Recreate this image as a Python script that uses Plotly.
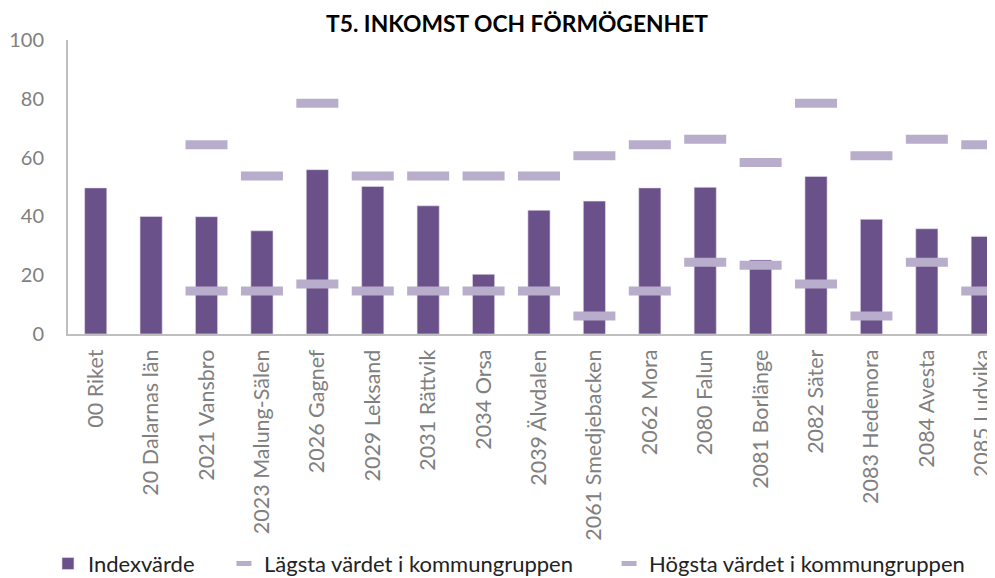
import plotly.graph_objects as go

categories = ["00 Riket", "20 Dalarnas län", "2021 Vansbro", "2023 Malung-Sälen", "2026 Gagnef",
              "2029 Leksand", "2031 Rättvik", "2034 Orsa", "2039 Älvdalen", "2061 Smedjebacken",
              "2062 Mora", "2080 Falun", "2081 Borlänge", "2082 Säter", "2083 Hedemora",
              "2084 Avesta", "2085 Ludvika"]
index_values = [49.7, 40.0, 39.9, 35.1, 55.9, 50.2, 43.6, 20.3, 42.1, 45.2, 49.7, 49.9, 25.2, 53.6, 39.0, 35.8, 33.2]
lowest = [None, None, 14.6, 14.6, 17.0, 14.6, 14.6, 14.6, 14.6, 6.1, 14.6, 24.4, 23.4, 17.0, 6.1, 24.4, 14.6]
highest = [None, None, 64.4, 53.7, 78.5, 53.7, 53.7, 53.7, 53.7, 60.6, 64.4, 66.2, 58.3, 78.5, 60.6, 66.2, 64.4]
y_ticks = [0, 20, 40, 60, 80, 100]
series_names = ["Indexvärde", "Lägsta värdet i kommungruppen", "Högsta värdet i kommungruppen"]

FONT = "Lato, Carlito, sans-serif"
BAR = "#6a5189"
DASH = "#b8adca"
GRAY = "#808080"

dash_marker = dict(symbol="line-ew-open", size=30, color=DASH, line=dict(color=DASH, width=9))
legend_dash = dict(symbol="line-ew-open", size=10.7, color=DASH, line=dict(color=DASH, width=5))

fig = go.Figure()
fig.add_trace(go.Bar(x=categories, y=index_values, name=series_names[0], marker_color=BAR,
                     marker_line=dict(color="#e6e0ee", width=0.6), width=0.4, legend="legend"))
fig.add_trace(go.Scatter(x=categories, y=lowest, name=series_names[1], mode="markers",
                         marker=dash_marker, showlegend=False))
fig.add_trace(go.Scatter(x=categories, y=highest, name=series_names[2], mode="markers",
                         marker=dash_marker, showlegend=False))
# legend-only entries with a small dash symbol
fig.add_trace(go.Scatter(x=[None], y=[None], name=series_names[1], mode="markers",
                         marker=legend_dash, legend="legend2"))
fig.add_trace(go.Scatter(x=[None], y=[None], name=series_names[2], mode="markers",
                         marker=legend_dash, legend="legend3"))

leg_common = dict(orientation="h", xref="container", yref="container", y=0.025, yanchor="middle",
                  font=dict(family=FONT, size=22, color="#222222"), bgcolor="rgba(0,0,0,0)",
                  itemwidth=30)

fig.update_layout(
    width=987, height=570,
    paper_bgcolor="white", plot_bgcolor="white",
    margin=dict(l=60, r=0, t=32, b=244, autoexpand=False),
    title=dict(text="<b>T5. INKOMST OCH FÖRMÖGENHET</b>", x=0.5157, xanchor="center", xref="container",
               y=0.972, yanchor="middle", yref="container",
               font=dict(family=FONT, size=22.8, color="black")),
    font=dict(family=FONT),
    showlegend=True,
    legend=dict(x=0.0405, xanchor="left", **leg_common),
    legend2=dict(x=0.2188, xanchor="left", **leg_common),
    legend3=dict(x=0.609, xanchor="left", **leg_common),
    xaxis=dict(type="category", range=[-0.5, 16.23], tickangle=-90, automargin=False,
               tickfont=dict(family=FONT, size=21.5, color=GRAY), ticklabelstandoff=5,
               showline=True, linecolor="#bfbfbf", linewidth=2, ticks="", showgrid=False),
    yaxis=dict(range=[0, 100], tickvals=y_ticks, tickfont=dict(family=FONT, size=20, color=GRAY),
               showline=True, linecolor="#bfbfbf", linewidth=2, ticks="", showgrid=False,
               zeroline=False, ticklabelstandoff=18, automargin=False),
)

fig.write_html("out.html")
